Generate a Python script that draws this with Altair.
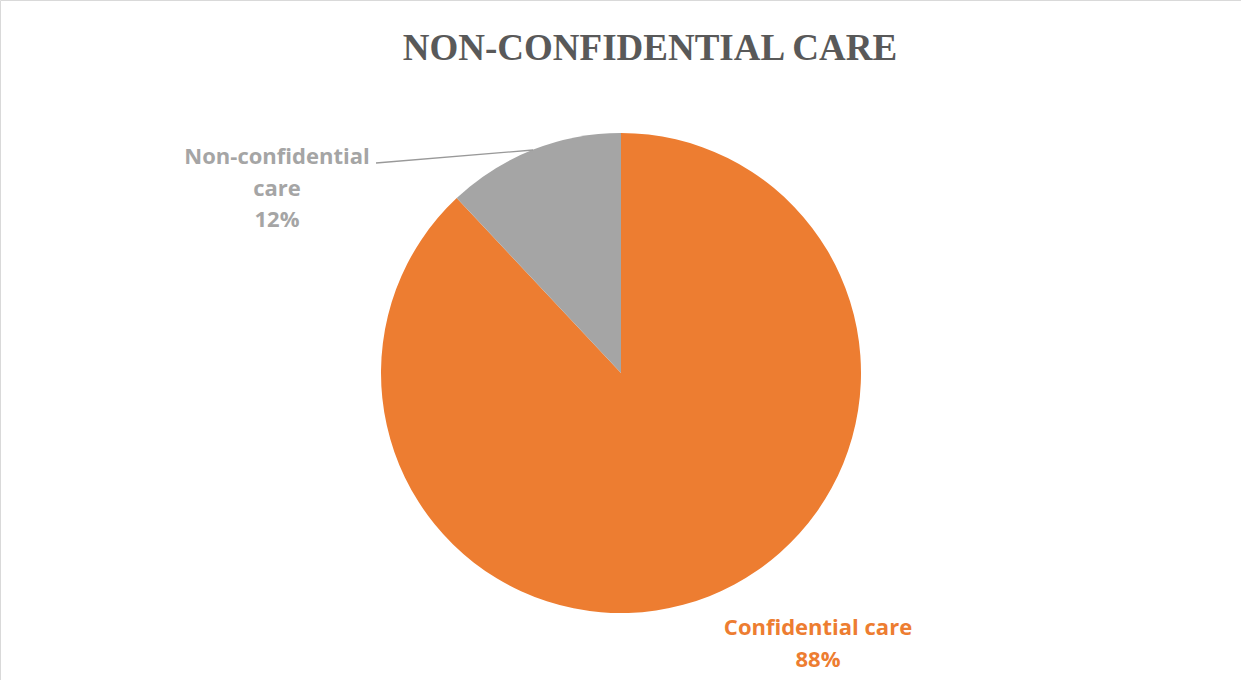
import altair as alt
import pandas as pd

title_text = "NON-CONFIDENTIAL CARE"
categories = ["Confidential care", "Non-confidential care"]
values = [88, 12]
colors = ["#ED7D31", "#A5A5A5"]
label_lines = [["Confidential care", "88%"], ["Non-confidential", "care", "12%"]]

df = pd.DataFrame({"category": categories, "value": values, "order": [0, 1]})
df["label"] = ["\n".join(l) for l in label_lines]

color_scale = alt.Scale(domain=categories, range=colors)

pie = alt.Chart(df).mark_arc(outerRadius=240).encode(
    theta=alt.Theta("value:Q", stack=True),
    color=alt.Color("category:N", scale=color_scale, legend=None),
    order=alt.Order("order:Q"),
    x=alt.value(621),
    y=alt.value(373),
)

base_text = dict(font="Open Sans", fontWeight="bold", fontSize=22, lineBreak="\n",
                 lineHeight=31.5, align="center", baseline="middle")

lab_conf = alt.Chart(df).transform_filter(
    alt.datum.category == categories[0]
).mark_text(color=colors[0], **base_text).encode(
    text="label:N", x=alt.value(818), y=alt.value(628)
)

lab_non = alt.Chart(df).transform_filter(
    alt.datum.category == categories[1]
).mark_text(color=colors[1], **base_text).encode(
    text="label:N", x=alt.value(277), y=alt.value(157)
)

leader = alt.Chart(pd.DataFrame({"a": [0]})).mark_rule(color="#999999", strokeWidth=1.3).encode(
    x=alt.value(376), y=alt.value(163), x2=alt.value(533), y2=alt.value(150)
)

title = alt.Chart(pd.DataFrame({"t": [title_text]})).mark_text(
    font="Liberation Serif", fontWeight="bold", fontSize=37, color="#595959",
    align="center", baseline="alphabetic"
).encode(text="t:N", x=alt.value(650), y=alt.value(60))

chart = alt.layer(pie, leader, lab_non, lab_conf, title).properties(
    width=1241, height=680, padding=0,
    autosize=alt.AutoSizeParams(type="none"),
).configure_view(stroke="#D9D9D9")

chart.save("out.html", embed_options={"renderer": "svg", "actions": False})
